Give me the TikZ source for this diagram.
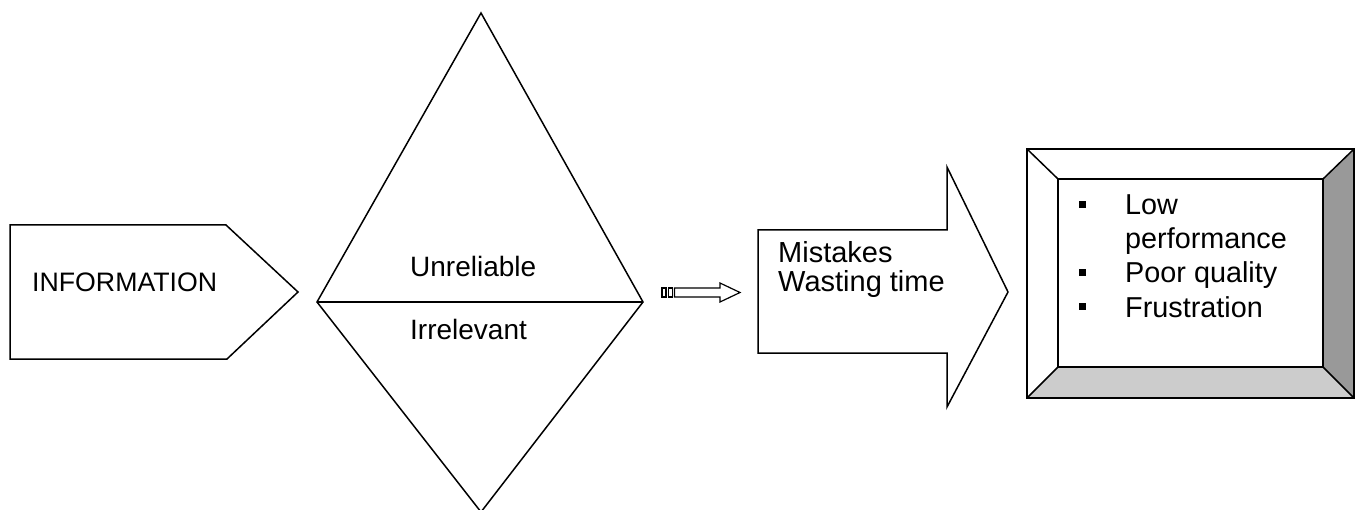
\documentclass[tikz,border=0pt]{standalone}
\usepackage{fontspec}
\setmainfont{Liberation Sans}
\begin{document}
\begin{tikzpicture}[x=1pt,y=-1pt,
  outline/.style={draw=black,line width=1.5pt,line join=miter},
  lbl/.style={anchor=base west,inner sep=0pt,font=\fontsize{28}{28}\selectfont},
  bul/.style={fill=black}]
\useasboundingbox (0,0) rectangle (1356,510);

% pentagon holding the source label
\draw[outline] (10,225) -- (226,225) -- (298,292) -- (227,359) -- (10,359) -- cycle;
\node[lbl,font=\fontsize{26.7}{28}\selectfont] (info) at (32,292) {INFORMATION};

% split diamond
\draw[outline] (481,13) -- (643,302) -- (481,512) -- (317,302) -- cycle;
\draw[outline] (317,302) -- (643,302);
\node[lbl] (unrel) at (410,277) {Unreliable};
\node[lbl] (irrel) at (410,339) {Irrelevant};

% small striped arrow
\draw[line width=1.2pt] (662,288) rectangle (666,297);
\draw[line width=1.2pt] (668.5,288) rectangle (672.5,297);
\draw[line width=1.2pt,line join=miter] (674.5,288) -- (720,288) -- (720,283) -- (740,292.5)
  -- (720,302) -- (720,297) -- (674.5,297) -- cycle;

% block arrow with consequences
\draw[outline] (758,230) -- (947,230) -- (947,167) -- (1008,292) -- (947,407)
  -- (947,353) -- (758,353) -- cycle;
\node[lbl,font=\fontsize{29}{29}\selectfont] (mist) at (778,263) {Mistakes};
\node[lbl,font=\fontsize{29}{29}\selectfont] (waste) at (778,292) {Wasting time};

% bevelled frame with outcomes
\fill[white] (1027,149) -- (1354,149) -- (1323,179) -- (1058,179) -- cycle;
\fill[black!40] (1354,149) -- (1354,398) -- (1323,367) -- (1323,179) -- cycle;
\fill[black!20] (1027,398) -- (1354,398) -- (1323,367) -- (1058,367) -- cycle;
\draw[outline] (1027,149) rectangle (1354,398);
\draw[outline] (1058,179) rectangle (1323,367);
\draw[outline] (1027,149) -- (1058,179);
\draw[outline] (1354,149) -- (1323,179);
\draw[outline] (1027,398) -- (1058,367);
\draw[outline] (1354,398) -- (1323,367);

\fill[bul] (1079,201) rectangle (1086,208);
\fill[bul] (1079,269) rectangle (1086,276);
\fill[bul] (1079,303) rectangle (1086,310);
\node[lbl,font=\fontsize{28.8}{29}\selectfont] (low) at (1125,215) {Low};
\node[lbl,font=\fontsize{28.8}{29}\selectfont] (perf) at (1125,249) {performance};
\node[lbl,font=\fontsize{28.8}{29}\selectfont] (poor) at (1125,283) {Poor quality};
\node[lbl,font=\fontsize{28.8}{29}\selectfont] (frus) at (1125,317) {Frustration};
\end{tikzpicture}
\end{document}
